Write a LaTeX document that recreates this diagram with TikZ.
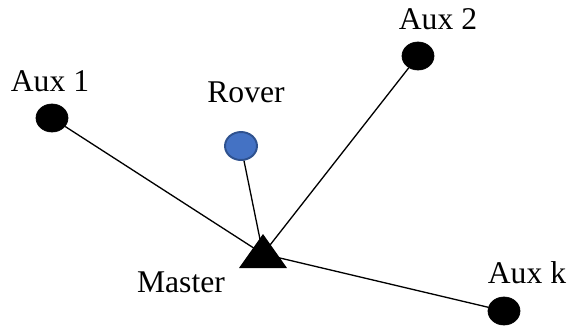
\documentclass[tikz,border=0pt]{standalone}
\usepackage{fontspec}
\setmainfont{Liberation Serif}
\usetikzlibrary{positioning,shapes.geometric}
\definecolor{roverblue}{HTML}{4472C4}
\definecolor{roveredge}{HTML}{2F528F}
\tikzset{main base/.style={ellipse,inner sep=0pt,minimum width=0.64cm,minimum height=0.56cm}, }
\tikzset{aux node/.style={main base,fill=black,draw=black}, }
\tikzset{rover node/.style={main base,fill=roverblue,draw=roveredge,line width=1.1pt}, }
\tikzset{etichetta/.style={anchor=base,inner sep=0pt,font=\fontsize{18}{21}\selectfont}, }
\tikzset{linea/.style={draw,line width=0.75pt}}

\begin{document}
\begin{tikzpicture}[x=0.02cm,y=-0.02cm]
  \useasboundingbox (0,0) rectangle (569,326);
    \coordinate (master) at (263,254);
    \node[aux node] (1) at (52,118) {};
    \node[rover node] (2) at (241,146) {};
    \node[aux node] (3) at (418,56) {};
    \node[aux node] (4) at (504,311) {};
%
\foreach \x in {1,2,3,4}
  \path[linea] (master) -- (\x);
    % triangolo del master
    \fill ([shift={(0,-20)}]master) -- ([shift={(-24,14)}]master)
      -- ([shift={(24,14)}]master) -- cycle;
%
    \node[etichetta] (l1) at (50,91) {Aux 1};
    \node[etichetta] (l2) at (246,102) {Rover};
    \node[etichetta] (l3) at (438,29) {Aux 2};
    \node[etichetta] (l4) at (527,283) {Aux k};
    \node[etichetta] (l5) at (181,292) {Master};
\end{tikzpicture}
\end{document}
